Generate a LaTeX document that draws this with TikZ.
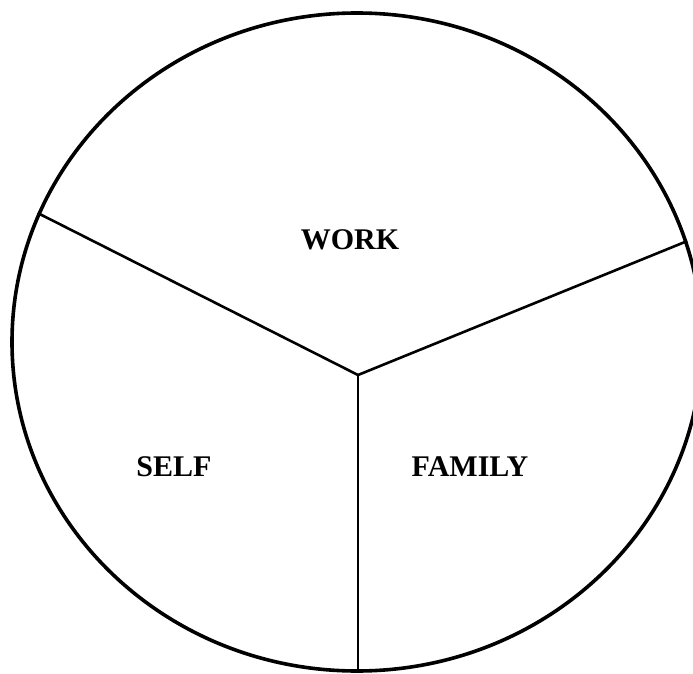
\documentclass[tikz,border=0pt]{standalone}
\usepackage{fontspec}
\setmainfont{Liberation Serif}
\usetikzlibrary{positioning, shapes.geometric}

\begin{document}
\begin{tikzpicture}[
      x=1pt, y=-1pt,
      rim/.style={draw, ellipse, line width=3.6pt, minimum width=690pt, minimum height=658pt, inner sep=0pt},
      spoke/.style={line width=2.6pt},
      part/.style={font=\bfseries\fontsize{30}{33}\selectfont}]
      \useasboundingbox[clip] (0,0) rectangle (693,674);
      \node[rim]                 (disk)   at (357,342) {};
      \coordinate                (hub)    at (358,375);
      \node[part]                (work)   at (350,240) {WORK};
      \node[part]                (self)   at (174,467) {SELF};
      \node[part]                (family) at (470,467) {FAMILY};
      \draw[spoke] (hub) -- (disk.158.3);
      \draw[spoke] (hub) -- (disk.17.5);
      \draw[spoke] (hub) -- (hub |- disk.south);
    \end{tikzpicture}
\end{document}
